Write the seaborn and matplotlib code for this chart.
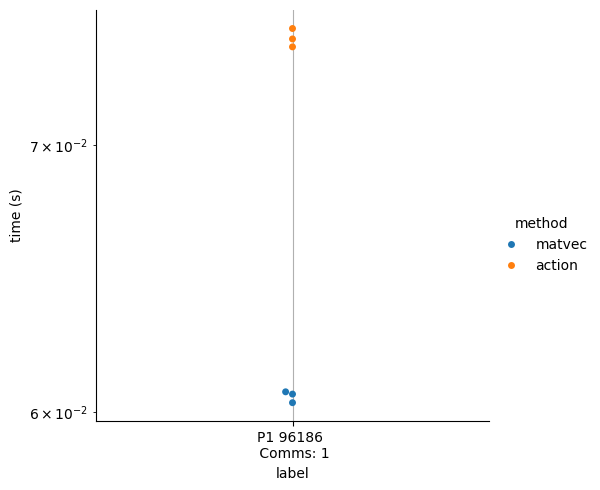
import matplotlib
matplotlib.use("Agg")
import matplotlib.pyplot as plt
import seaborn as sns
import pandas as pd

labels = ["P1 96186 \n Comms: 1"] * 6
methods = ["matvec", "matvec", "matvec", "action", "action", "action"]
times = [0.06070, 0.06062, 0.06032, 0.07487, 0.07442, 0.07408]

df = pd.DataFrame({"label": labels, "method": methods, "time (s)": times})

g = sns.catplot(data=df, x="label", y="time (s)", hue="method", kind="swarm",
                height=4.9, aspect=1.0)
ax = g.ax
ax.set_yscale("log")
ax.grid(axis="x")
g.figure.set_size_inches(6.0, 4.9)
g.figure.subplots_adjust(left=0.16, right=0.815, bottom=0.14, top=0.98)
g.figure.savefig("out.png", dpi=100)
